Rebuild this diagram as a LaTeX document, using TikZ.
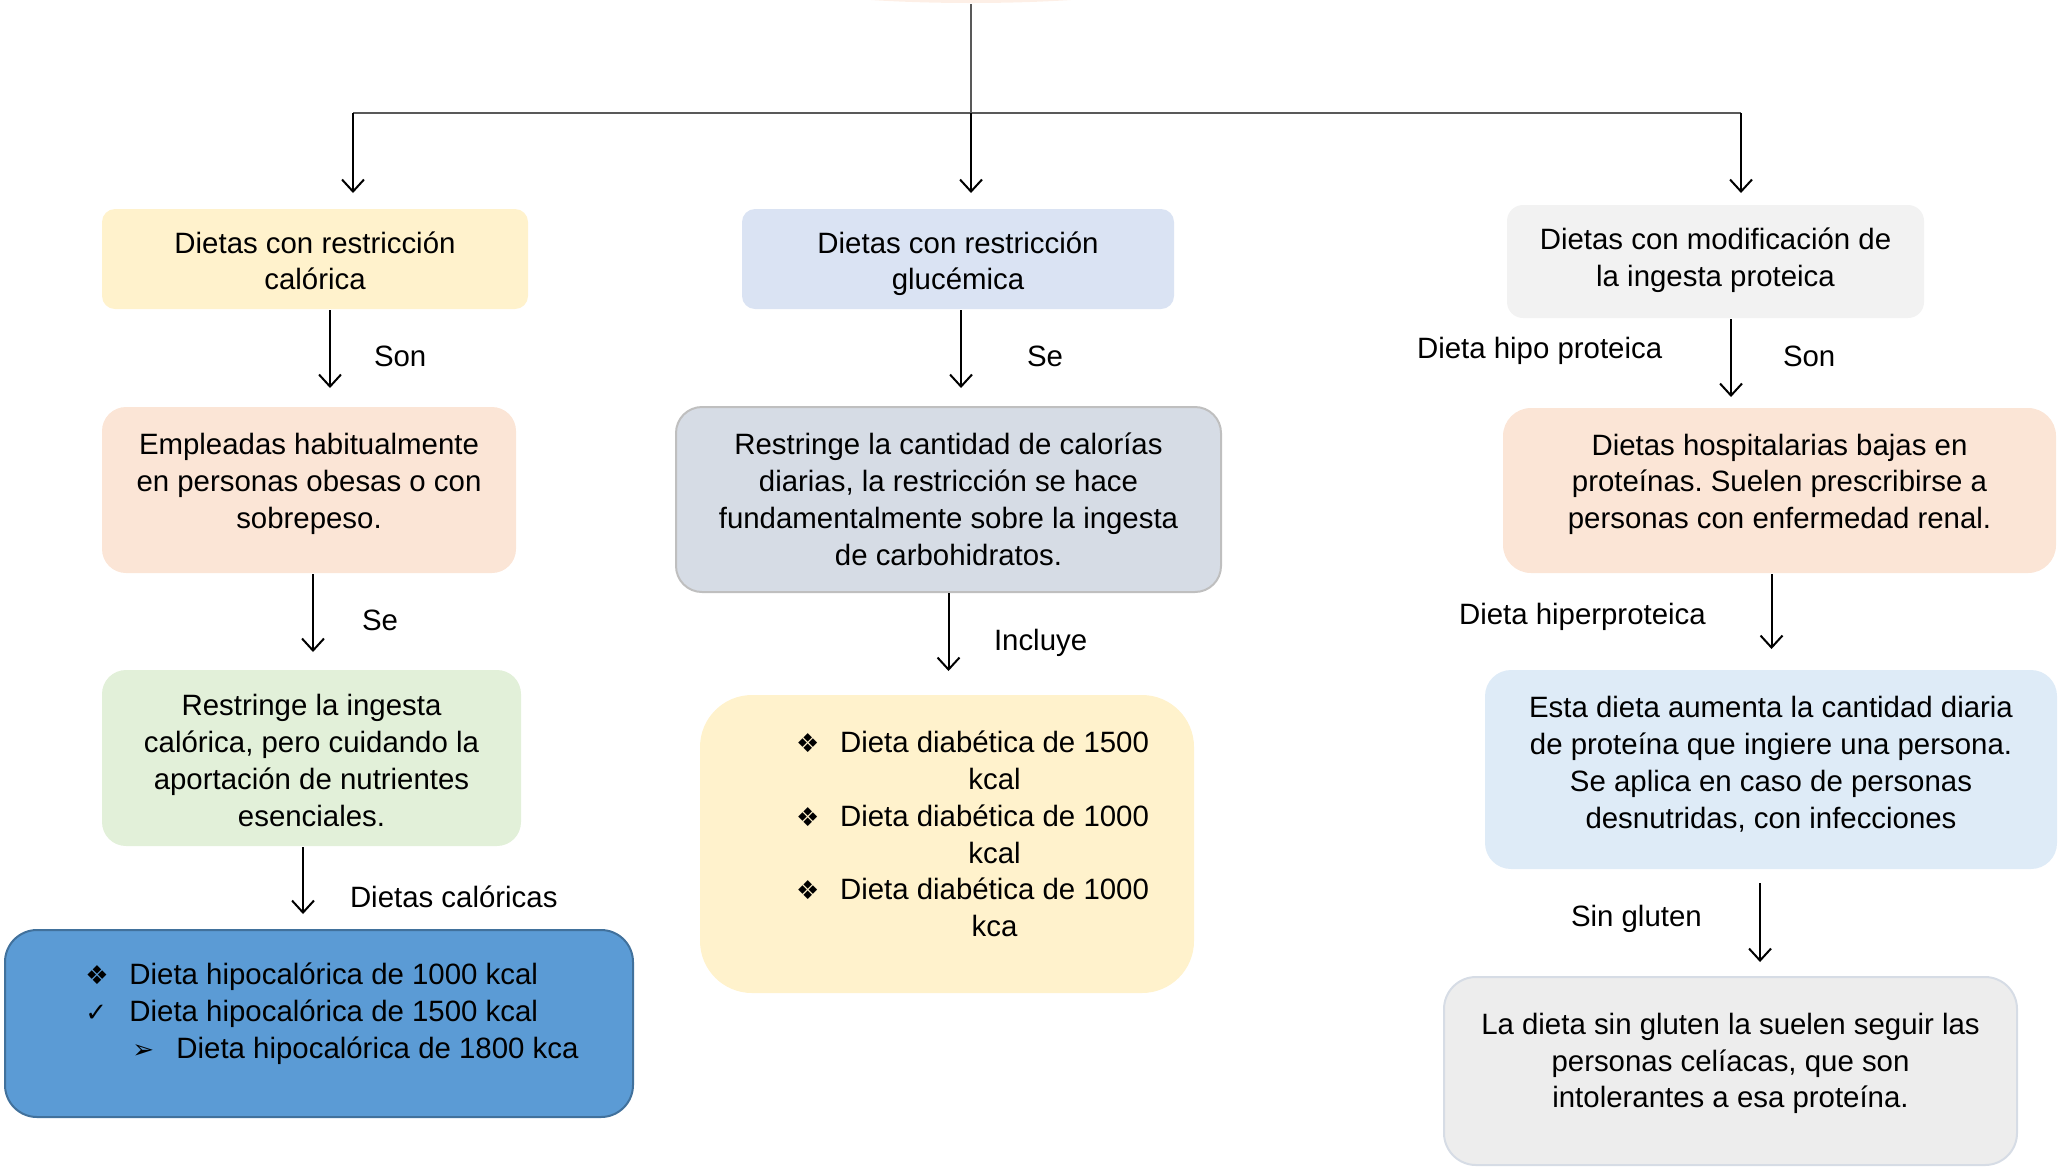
\documentclass[tikz,border=0pt]{standalone}
\usepackage{fontspec}
\setmainfont{Liberation Sans}
\newfontfamily\dingfont{DejaVu Sans}
\usetikzlibrary{arrows.meta,shapes.geometric}
\frenchspacing

\definecolor{amarillo}{HTML}{FFF2CC}
\definecolor{celeste}{HTML}{DAE3F3}
\definecolor{grisclaro}{HTML}{F2F2F2}
\definecolor{melocoton}{HTML}{FBE5D6}
\definecolor{grisazul}{HTML}{D6DCE5}
\definecolor{verdeclaro}{HTML}{E2F0D9}
\definecolor{azulclaro}{HTML}{DEEBF7}
\definecolor{azul}{HTML}{5B9BD5}
\definecolor{azulborde}{HTML}{41719C}
\definecolor{grismedio}{HTML}{EDEDED}
\definecolor{linea}{HTML}{595959}

\newcommand{\bul}[1]{\makebox[22pt][l]{\dingfont\fontsize{13}{13}\selectfont #1}}
% texto centrado, subido o bajado dentro de su caja
\newcommand{\txt}[2]{\raisebox{#1}[\height][\depth]{\begin{tabular}{@{}c@{}}#2\end{tabular}}}

\begin{document}
\begin{tikzpicture}[x=0.5pt,y=-0.5pt,
    every node/.style={font=\fontsize{14.7}{18.4}\selectfont},
    caja/.style={rounded corners=#1, inner sep=0pt},
    caja/.default=10pt,
    lbl/.style={anchor=west, inner sep=0pt},
    trunk/.style={draw=linea, line width=0.7pt}]
      \tikzset{>={Straight Barb[length=6pt,width=11pt]}, every path/.append style={line width=1pt}}
      \useasboundingbox (0,0) rectangle (2059,1168);

      \node[ellipse,fill=melocoton!60,minimum width=240pt,minimum height=33pt,inner sep=0pt] (root) at (971,-30) {};
      \coordinate (hub) at (971,113);
      \coordinate (hubL) at (353,113);
      \coordinate (hubR) at (1741,113);

      % primera fila
      \node[caja=6.5pt,fill=amarillo,minimum width=213pt,minimum height=50pt] (calor) at (315,259) {\txt{-2.6pt}{Dietas con restricción\\calórica}};
      \node[caja=6.5pt,fill=celeste,minimum width=216pt,minimum height=50pt] (gluc) at (958,259) {\txt{-2.6pt}{Dietas con restricción\\glucémica}};
      \node[caja=8pt,fill=grisclaro,minimum width=208.5pt,minimum height=56.5pt] (prot) at (1715.5,261.5) {\txt{0.3pt}{Dietas con modificación de\\la ingesta proteica}};

      % segunda fila
      \node[caja=12pt,fill=melocoton,minimum width=207pt,minimum height=83pt] (obesas) at (309,490) {\txt{3pt}{Empleadas habitualmente\\en personas obesas o con\\sobrepeso.}};
      \node[caja=13pt,fill=grisazul,draw=black!25,minimum width=272.5pt,minimum height=92.5pt] (carbo) at (948.5,499.5) {\txt{-1.5pt}{Restringe la cantidad de calorías\\diarias, la restricción se hace\\fundamentalmente sobre la ingesta\\de carbohidratos.}};
      \node[caja=14pt,fill=melocoton,minimum width=276.5pt,minimum height=82.5pt] (renal) at (1779.5,490.5) {\txt{3pt}{Dietas hospitalarias bajas en\\proteínas. Suelen prescribirse a\\personas con enfermedad renal.}};

      % tercera fila
      \node[caja=12pt,fill=verdeclaro,minimum width=209.5pt,minimum height=88pt] (ingesta) at (311.5,758) {\txt{-2.9pt}{Restringe la ingesta\\calórica, pero cuidando la\\aportación de nutrientes\\esenciales.}};
      \node[caja=26pt,fill=amarillo,minimum width=247pt,minimum height=149pt] (diabet) at (947,844) {%
        \raisebox{3.3pt}[\height][\depth]{%
        \begin{tabular}{@{\hspace{25.5pt}}l@{}c@{}}
          \bul{❖} & Dieta diabética de 1500\\
                  & kcal\\
          \bul{❖} & Dieta diabética de 1000\\
                  & kcal\\
          \bul{❖} & Dieta diabética de 1000\\
                  & kca
        \end{tabular}}};
      \node[caja=13pt,fill=azulclaro,minimum width=286pt,minimum height=99.5pt] (hiper) at (1771,769.5) {\txt{2pt}{Esta dieta aumenta la cantidad diaria\\de proteína que ingiere una persona.\\Se aplica en caso de personas\\desnutridas, con infecciones}};

      % cuarta fila
      \node[caja=16pt,fill=azul,draw=azulborde,minimum width=314pt,minimum height=93.5pt] (hipocal) at (319,1023.5) {%
        \raisebox{4.6pt}[\height][\depth]{%
        \begin{tabular}{@{\hspace{13pt}}l@{}}
          \bul{❖}Dieta hipocalórica de 1000 kcal\\
          \bul{✓}Dieta hipocalórica de 1500 kcal\\
          \hspace*{23.5pt}\bul{➢}Dieta hipocalórica de 1800 kca
        \end{tabular}}};
      \node[caja=16pt,fill=grismedio,draw=grisazul,minimum width=286.5pt,minimum height=94pt] (gluten) at (1730.5,1071) {\txt{3.6pt}{La dieta sin gluten la suelen seguir las\\personas celíacas, que son\\intolerantes a esa proteína.}};

      % etiquetas
      \node[lbl] (son1) at (373,356) {Son};
      \node[lbl] (se1) at (1026,356) {Se};
      \node[lbl] (son2) at (1782,356) {Son};
      \node[lbl] (hipoLbl) at (1416,351) {Dieta hipo proteica};
      \node[lbl] (se2) at (361,620) {Se};
      \node[lbl] (incl) at (993,643) {Incluye};
      \node[lbl] (hiperLbl) at (1458,617) {Dieta hiperproteica};
      \node[lbl] (calLbl) at (349,897) {Dietas calóricas};
      \node[lbl] (sinLbl) at (1570,919) {Sin gluten};

      % conectores
      \draw[trunk] (root.south) -- (hub);
      \draw[trunk] (hubL) -- (hubR);
      \draw[->,shorten >=7.5pt] (hubL) -- (hubL |- calor.north);
      \draw[->,shorten >=7.5pt] (hub) -- (hub |- gluc.north);
      \draw[->,shorten >=5.5pt] (hubR) -- (hubR |- prot.north);

      \draw[->,shorten >=9pt] ([xshift=7.5pt]calor.south) -- ([xshift=7.5pt]calor.south |- obesas.north);
      \draw[->,shorten >=9pt] ([xshift=1.5pt]gluc.south) -- ([xshift=1.5pt]gluc.south |- carbo.north);
      \draw[->,shorten >=5pt] ([xshift=7.75pt]prot.south) -- ([xshift=7.75pt]prot.south |- renal.north);
      \draw[->,shorten >=8.5pt] ([xshift=2pt]obesas.south) -- ([xshift=2pt]obesas.south |- ingesta.north);
      \draw[->,shorten >=11.5pt] (carbo.south) -- (carbo.south |- diabet.north);
      \draw[->,shorten >=10pt] ([xshift=-4pt]renal.south) -- ([xshift=-4pt]renal.south |- hiper.north);
      \draw[->,shorten >=7.5pt] ([xshift=-4.25pt]ingesta.south) -- ([xshift=-4.25pt]ingesta.south |- hipocal.north);
      \draw[->,shorten <=6.5pt,shorten >=7pt] ([xshift=-5.5pt]hiper.south) -- ([xshift=-5.5pt]hiper.south |- gluten.north);
    \end{tikzpicture}
\end{document}
